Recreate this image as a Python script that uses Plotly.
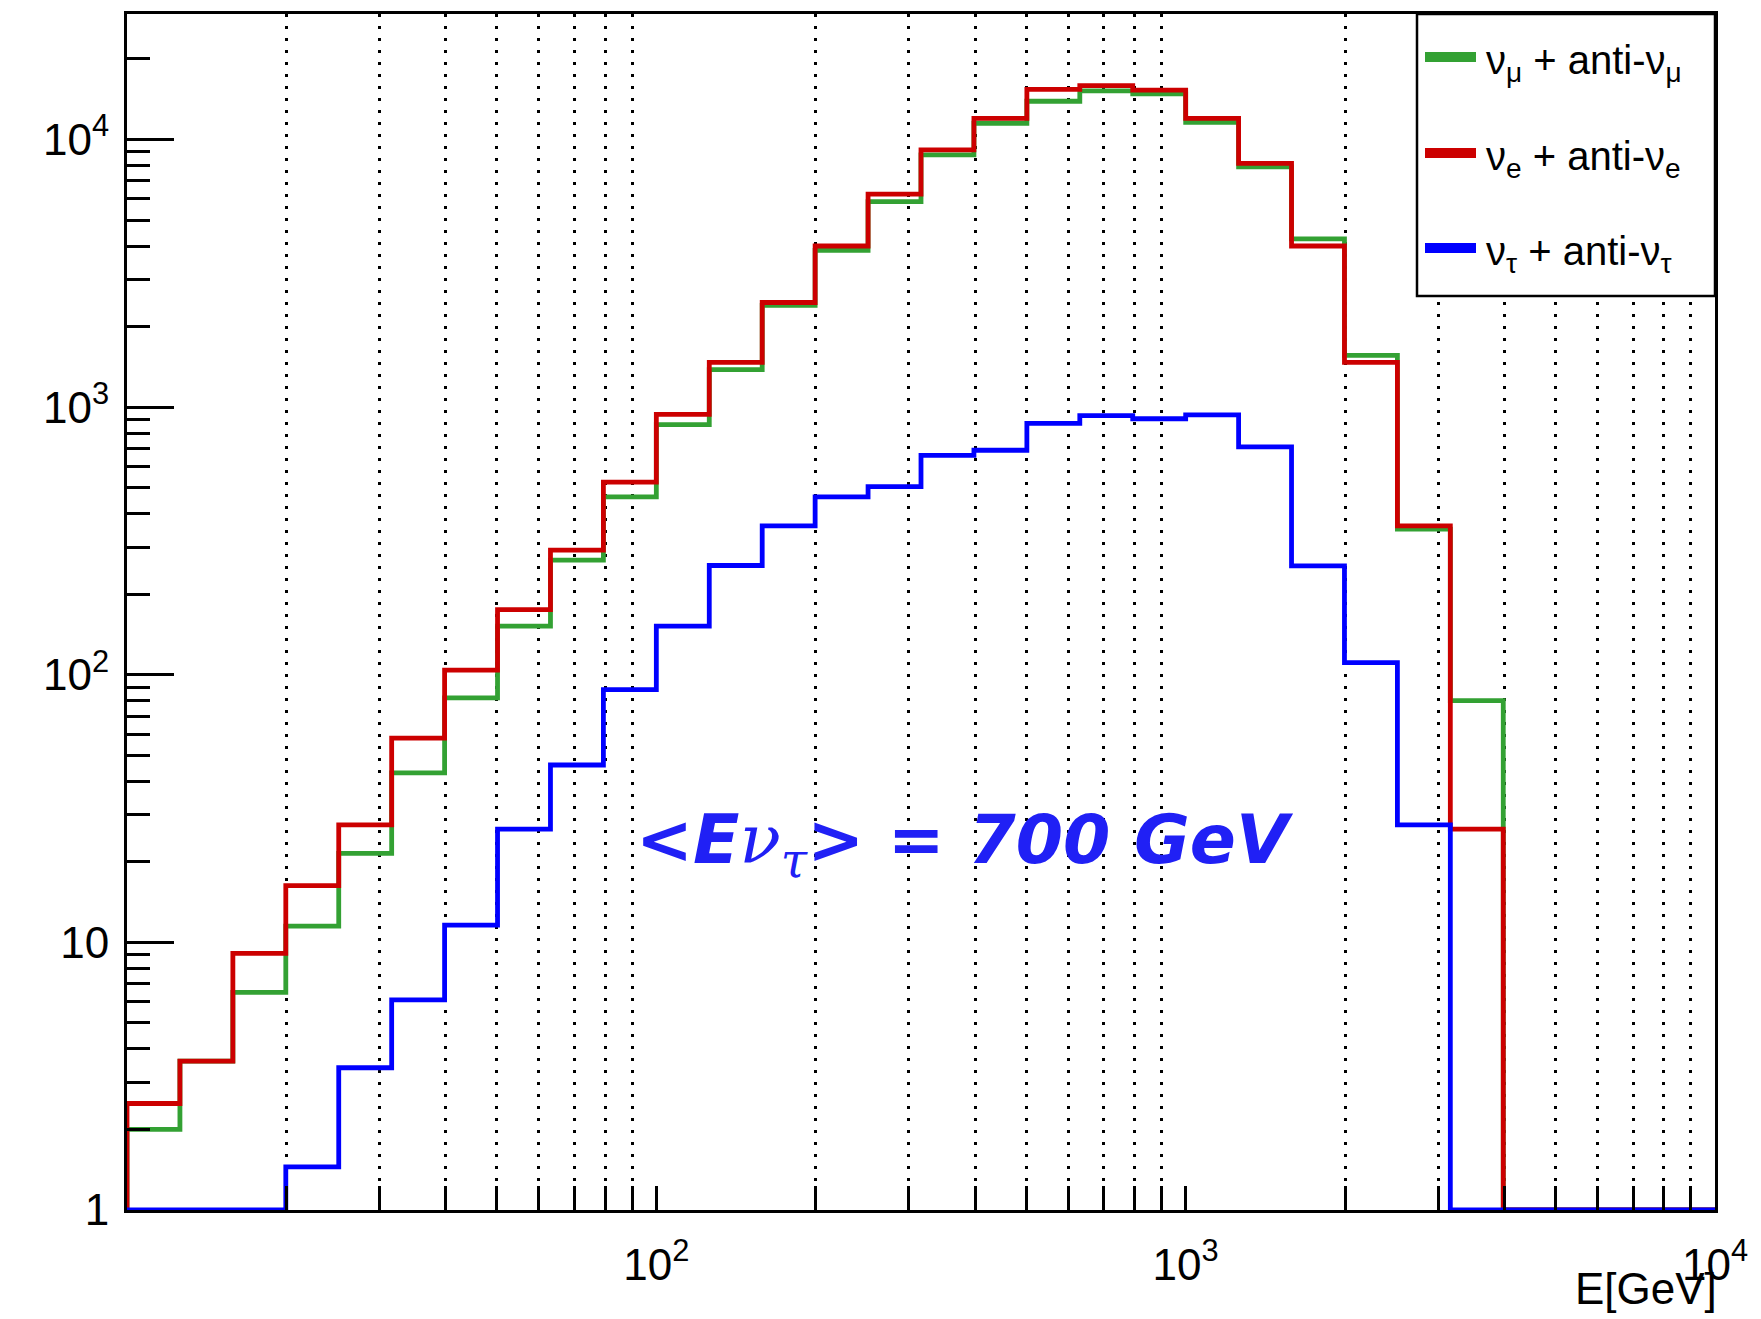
import numpy as np
import plotly.graph_objects as go

# Bin edges: 30 log-spaced bins from 10 GeV to 10^4 GeV (10 bins per decade)
bin_edges = np.logspace(1, 4, 31)

# Counts per bin; 0 = empty bin
numu_counts = [2.0, 3.6, 6.5, 11.5, 21.5, 43, 82, 152, 268, 462,
               860, 1380, 2400, 3850, 5860, 8760, 11500, 13900, 15200, 14800,
               11600, 7900, 4250, 1560, 350, 80, 0, 0, 0, 0]
nue_counts = [2.5, 3.6, 9.1, 16.3, 27.5, 58, 104, 175, 292, 525,
              940, 1470, 2460, 4000, 6250, 9150, 12000, 15400, 15900, 15300,
              12000, 8150, 4000, 1470, 360, 26.5, 0, 0, 0, 0]
nutau_counts = [0, 0, 0, 1.45, 3.4, 6.1, 11.6, 26.5, 46, 88,
                152, 256, 360, 462, 505, 660, 690, 870, 930, 905,
                935, 710, 255, 111, 27.5, 0, 0, 0, 0, 0]

series_names = ["ν<sub>μ</sub> + anti-ν<sub>μ</sub>",
                "ν<sub>e</sub> + anti-ν<sub>e</sub>",
                "ν<sub>τ</sub> + anti-ν<sub>τ</sub>"]
series_colors = ["#33a133", "#cc0000", "#0000ff"]

x_major_vals = [100, 1000, 10000]
x_major_text = ["10<sup>2</sup>", "10<sup>3</sup>", "10<sup>4</sup>"]
y_major_vals = [1, 10, 100, 1000, 10000]
y_major_text = ["1", "10", "10<sup>2</sup>", "10<sup>3</sup>", "10<sup>4</sup>"]

mean_label = ("<i>&lt;E</i><i><span style='font-family:\"DejaVu Serif\"; font-weight:normal'>"
              "ν<sub>τ</sub></span></i><i>&gt; = 700 GeV</i>")
x_title = "E[GeV]"

Y_FLOOR = 1.0  # empty bins drawn on the bottom of the log axis


def step_xy(counts):
    c = [max(v, Y_FLOOR) for v in counts]
    xs = [bin_edges[0]] + list(bin_edges)
    ys = [Y_FLOOR] + c + [c[-1]]
    return xs, ys


minor_x = [m * 10 ** d for d in (1, 2, 3) for m in range(2, 10)]
minor_y = [m * 10 ** d for d in (0, 1, 2, 3, 4) for m in range(2, 10)]
minor_y = [v for v in minor_y if v < 29000]

fig = go.Figure()
for name, counts, col in zip(series_names, [numu_counts, nue_counts, nutau_counts], series_colors):
    xs, ys = step_xy(counts)
    fig.add_trace(go.Scatter(x=xs, y=ys, mode="lines", name=name, showlegend=False,
                             line=dict(color=col, width=4.8, shape="hv")))

font_main = "Liberation Sans, Arial, Helvetica, sans-serif"

# ---- legend box (ROOT TLegend style), in paper coordinates ----
PLOT_L, PLOT_R, PLOT_T, PLOT_B = 127, 1715, 14, 1210


def px2paper_x(px):
    return (px - PLOT_L) / (PLOT_R - PLOT_L)


def px2paper_y(py):
    return (PLOT_B - py) / (PLOT_B - PLOT_T)


shapes = [dict(type="rect", xref="paper", yref="paper",
               x0=px2paper_x(1417), x1=1.0, y0=px2paper_y(296), y1=1.0,
               line=dict(color="black", width=2.5), fillcolor="white", layer="above")]
annotations = []
legend_rows = [57, 153, 248]
for name, col, yy in zip(series_names, series_colors, legend_rows):
    shapes.append(dict(type="line", xref="paper", yref="paper",
                       x0=px2paper_x(1425), x1=px2paper_x(1476),
                       y0=px2paper_y(yy), y1=px2paper_y(yy),
                       line=dict(color=col, width=10), layer="above"))
    annotations.append(dict(text=name, xref="paper", yref="paper",
                            x=px2paper_x(1484), y=px2paper_y(yy + 6),
                            xanchor="left", yanchor="middle", showarrow=False,
                            font=dict(size=40, family=font_main, color="black")))

annotations.append(dict(text=x_title, xref="paper", yref="paper", x=1, y=-0.066,
                        xanchor="right", yanchor="middle", showarrow=False, xshift=4,
                        font=dict(size=44, family=font_main, color="black")))
annotations.append(dict(text=mean_label, xref="paper", yref="paper", x=0.528, y=0.306,
                        xanchor="center", yanchor="middle", showarrow=False,
                        font=dict(size=68, family="DejaVu Sans", color="#2020f5", weight="bold")))

fig.update_layout(
    width=1761, height=1319, autosize=False,
    margin=dict(l=PLOT_L, r=1761 - PLOT_R, t=PLOT_T, b=1319 - PLOT_B),
    paper_bgcolor="white", plot_bgcolor="white",
    font=dict(family=font_main, color="black", size=44),
    showlegend=False,
    xaxis=dict(type="log", range=[1, 4], showline=True, linecolor="black", linewidth=3,
               mirror=True, ticks="inside", ticklen=24, tickwidth=3, tickcolor="black",
               tickmode="array", tickvals=x_major_vals, ticktext=x_major_text,
               tickfont=dict(size=44), ticklabelstandoff=14,
               showgrid=False, zeroline=False,
               minor=dict(tickmode="array", tickvals=minor_x, ticks="inside", ticklen=24,
                          tickwidth=3, tickcolor="black", showgrid=True,
                          gridcolor="black", gridwidth=3, griddash="3px,9px")),
    yaxis=dict(type="log", range=[0, 4.469], showline=True, linecolor="black", linewidth=3,
               mirror=True, ticks="inside", ticklen=47, tickwidth=3, tickcolor="black",
               tickmode="array", tickvals=y_major_vals, ticktext=y_major_text,
               tickfont=dict(size=44), ticklabelstandoff=6,
               showgrid=False, zeroline=False,
               minor=dict(tickmode="array", tickvals=minor_y, ticks="inside", ticklen=23,
                          tickwidth=3, tickcolor="black", showgrid=False)),
    shapes=shapes,
    annotations=annotations,
)

fig.write_html("out.html")
